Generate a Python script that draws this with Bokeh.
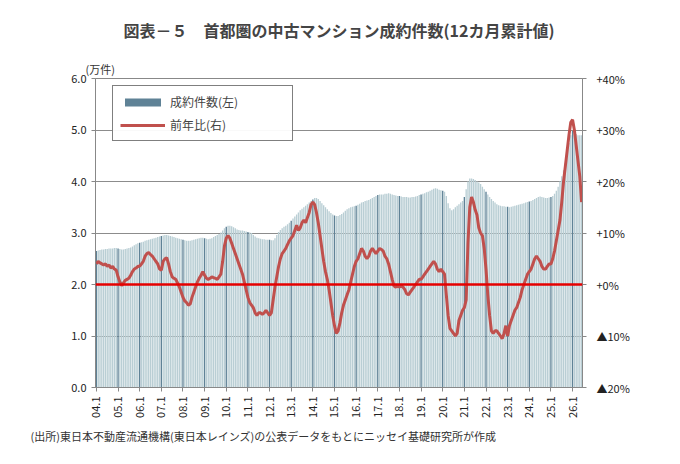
from math import pi
from bokeh.plotting import figure
from bokeh.models import Range1d, LinearAxis, FixedTicker, Legend, LegendItem, Title, Span
from bokeh.embed import file_html
from bokeh.resources import INLINE

years = list(range(2004, 2027))
tick_labels = ["%02d.1" % (y % 100) for y in years]

counts_by_year = [
 [2.65,2.66,2.67,2.68,2.68,2.69,2.69,2.70,2.70,2.70,2.71,2.71],
 [2.70,2.69,2.68,2.68,2.69,2.70,2.71,2.72,2.74,2.76,2.78,2.80],
 [2.81,2.82,2.83,2.85,2.86,2.87,2.88,2.89,2.90,2.91,2.92,2.93],
 [2.94,2.95,2.96,2.96,2.95,2.94,2.93,2.92,2.91,2.90,2.89,2.88],
 [2.87,2.86,2.85,2.85,2.85,2.86,2.87,2.88,2.89,2.90,2.91,2.91],
 [2.90,2.89,2.88,2.89,2.90,2.92,2.94,2.96,2.98,3.01,3.05,3.09],
 [3.12,3.14,3.14,3.13,3.11,3.09,3.07,3.06,3.05,3.05,3.04,3.03],
 [3.02,3.01,3.00,2.96,2.93,2.91,2.90,2.89,2.88,2.88,2.87,2.87],
 [2.87,2.86,2.86,2.90,2.96,3.02,3.06,3.09,3.12,3.14,3.17,3.20],
 [3.24,3.28,3.32,3.36,3.40,3.44,3.47,3.50,3.53,3.56,3.59,3.62],
 [3.65,3.68,3.68,3.66,3.62,3.58,3.54,3.50,3.46,3.42,3.39,3.36],
 [3.34,3.33,3.33,3.35,3.37,3.40,3.43,3.46,3.48,3.50,3.51,3.52],
 [3.53,3.55,3.57,3.59,3.60,3.62,3.63,3.64,3.66,3.68,3.70,3.72],
 [3.74,3.75,3.75,3.75,3.76,3.76,3.77,3.76,3.75,3.74,3.73,3.72],
 [3.72,3.71,3.70,3.70,3.70,3.69,3.69,3.70,3.70,3.71,3.72,3.74],
 [3.75,3.76,3.77,3.79,3.80,3.82,3.84,3.86,3.87,3.86,3.84,3.83],
 [3.82,3.80,3.72,3.58,3.48,3.44,3.46,3.50,3.53,3.56,3.59,3.62],
 [3.70,3.85,4.00,4.06,4.06,4.05,4.03,4.00,3.98,3.95,3.90,3.85],
 [3.80,3.75,3.70,3.66,3.62,3.59,3.56,3.54,3.53,3.52,3.52,3.51],
 [3.51,3.50,3.51,3.52,3.53,3.54,3.55,3.56,3.57,3.58,3.59,3.60],
 [3.61,3.62,3.64,3.66,3.68,3.70,3.71,3.70,3.69,3.68,3.68,3.69],
 [3.70,3.72,3.76,3.82,3.90,4.00,4.10,4.22,4.36,4.55,4.75,4.90],
 [4.98,4.96,4.92,4.90,4.90,4.90],
]

yoy_by_year = [
 [4.0,4.5,4.2,4.0,3.8,4.0,3.5,3.8,3.2,3.5,3.0,2.8],
 [1.5,0.5,-0.2,0.3,0.8,1.0,1.2,1.8,2.5,3.0,3.2,3.5],
 [3.6,4.0,4.5,5.5,6.0,6.2,5.8,5.5,5.0,4.5,4.0,3.0],
 [2.8,4.5,5.0,5.2,4.0,2.5,1.5,1.2,1.0,0.3,-0.5,-1.5],
 [-2.5,-3.2,-3.5,-4.0,-3.8,-2.5,-1.5,-0.5,0.5,1.2,1.8,2.5],
 [1.8,1.2,1.0,1.2,1.5,1.3,1.2,1.0,1.5,2.0,4.5,7.5],
 [9.0,9.5,9.0,8.0,7.0,6.0,5.0,4.0,3.0,2.0,0.5,-1.0],
 [-2.5,-3.5,-4.0,-4.5,-5.5,-6.0,-5.5,-5.5,-5.8,-5.5,-5.0,-5.5],
 [-6.0,-5.5,-3.0,-0.5,1.5,3.5,5.0,6.0,6.5,7.0,7.8,8.5],
 [9.0,9.5,10.5,11.5,10.5,11.0,12.0,12.5,12.0,13.0,14.0,15.5],
 [16.0,15.5,14.0,12.0,9.5,7.0,4.5,2.5,1.0,-1.0,-3.5,-6.0],
 [-8.0,-9.5,-9.0,-7.5,-5.5,-4.0,-3.0,-2.0,-1.0,0.5,2.0,3.5],
 [4.5,5.0,6.0,7.0,6.5,5.5,5.0,5.5,6.5,7.0,6.5,6.0],
 [6.5,7.0,6.8,6.5,5.5,5.0,4.0,2.5,1.0,-0.3,-0.5,-0.2],
 [-0.5,-0.2,-0.5,-1.0,-1.8,-2.0,-1.5,-1.0,-0.5,0.0,0.5,1.0],
 [1.0,1.5,2.0,2.5,3.0,3.5,4.0,4.5,4.0,3.0,2.5,3.0],
 [2.5,2.0,-2.0,-6.0,-8.5,-9.0,-9.5,-10.0,-9.5,-7.0,-6.0,-5.0],
 [-4.5,-3.0,8.0,15.0,17.0,16.0,14.5,13.5,11.0,10.0,9.5,7.0],
 [3.0,-2.0,-6.0,-9.0,-9.5,-9.0,-9.0,-9.5,-10.0,-10.5,-9.5,-8.0],
 [-10.0,-8.0,-7.0,-6.0,-5.0,-4.5,-3.5,-2.5,-1.0,0.0,1.0,2.0],
 [2.5,3.0,4.0,5.0,5.5,5.0,4.5,3.5,3.0,3.0,3.5,4.0],
 [4.0,5.0,6.5,8.5,10.5,12.5,16.0,20.0,23.0,26.0,29.0,31.5],
 [32.0,30.0,27.0,24.0,21.0,16.0],
]

counts = [v for row in counts_by_year for v in row]
yoy = [v for row in yoy_by_year for v in row]
xs = list(range(len(counts)))
colors = ["#5f8296" if i % 12 == 0 else "#b9ced4" for i in xs]

FONT = "Noto Sans CJK JP"
p = figure(width=664, height=448, output_backend="svg", toolbar_location=None,
           x_range=Range1d(-0.5, len(xs) - 0.5), y_range=Range1d(0, 6),
           min_border_left=95, min_border_right=82, min_border_top=10, min_border_bottom=4)
p.extra_y_ranges = {"r": Range1d(-20, 40)}

p.add_layout(Title(text="(万件)", align="left", offset=-10, text_font=FONT, text_font_size="11px",
                   text_font_style="normal", text_color="#333333", standoff=4), "above")
p.add_layout(Title(text="図表－５　首都圏の中古マンション成約件数(12カ月累計値)", align="center",
                   text_font=FONT, text_font_size="16px", text_font_style="bold", standoff=30), "above")
p.add_layout(Title(text="(出所)東日本不動産流通機構(東日本レインズ)の公表データをもとにニッセイ基礎研究所が作成",
                   align="left", text_font=FONT, text_font_size="11px", text_font_style="normal",
                   text_color="#333333", offset=-65), "below")

bars = p.vbar(x=xs, top=counts, width=0.75, fill_color=colors, line_color=None)
line = p.line(x=xs, y=yoy, y_range_name="r", line_color="#c0504d", line_width=3)
p.add_layout(Span(location=2.0, dimension="width", line_color="#e60000", line_width=2.5))

p.yaxis.ticker = FixedTicker(ticks=[0, 1, 2, 3, 4, 5, 6])
p.yaxis.major_label_overrides = {i: "%.1f" % i for i in range(7)}
ra = LinearAxis(y_range_name="r", ticker=FixedTicker(ticks=[-20, -10, 0, 10, 20, 30, 40]))
ra.major_label_overrides = {40: "+40%", 30: "+30%", 20: "+20%", 10: "+10%", 0: "+0%", -10: "▲10%", -20: "▲20%"}
p.add_layout(ra, "right")

p.xaxis.ticker = FixedTicker(ticks=[i * 12 for i in range(len(years))])
p.xaxis.major_label_overrides = {i * 12: tick_labels[i] for i in range(len(years))}
p.xaxis.major_label_orientation = pi / 2

for ax in [p.xaxis[0], p.yaxis[0], ra]:
    ax.major_label_text_font = FONT
    ax.major_label_text_font_size = "11px"
    ax.major_label_text_color = "#222222"
    ax.axis_line_color = "#888888"
    ax.major_tick_line_color = "#888888"
    ax.minor_tick_line_color = None
    ax.major_tick_in = 0
    ax.major_tick_out = 4
ra.major_label_standoff = 10

p.xgrid.grid_line_color = None
p.ygrid.grid_line_color = "#8c8c8c"
p.ygrid.ticker = FixedTicker(ticks=[1, 2, 3, 4, 5, 6])
p.outline_line_color = "#888888"
p.background_fill_color = "white"

legend = Legend(items=[LegendItem(label="成約件数(左)", renderers=[bars]),
                       LegendItem(label="前年比(右)", renderers=[line])],
                location=(17, 246), border_line_color="black", border_line_width=1.5,
                label_text_font=FONT, label_text_font_size="12px", glyph_width=45,
                glyph_height=10, spacing=6, padding=7, margin=0,
                label_width=115)
p.add_layout(legend)

open("out.html", "w").write(file_html(p, INLINE))
